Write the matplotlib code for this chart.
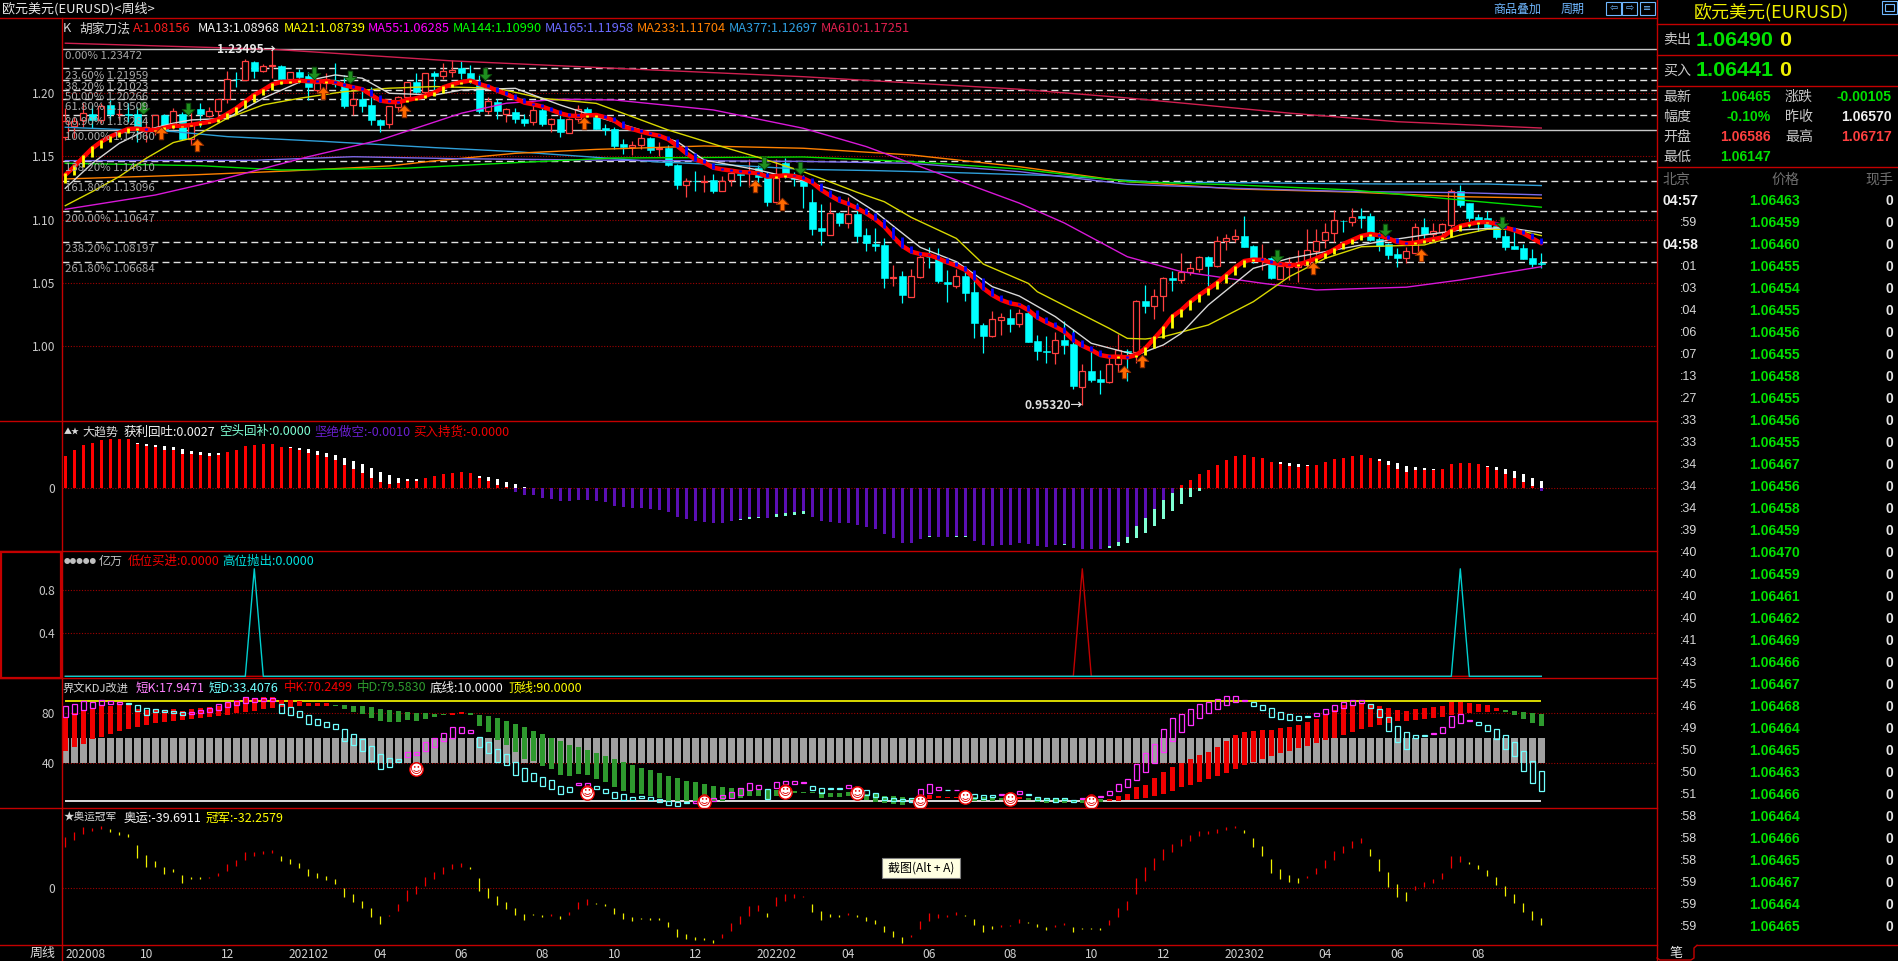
"""
EURUSD weekly terminal screen: candles with moving averages and fibonacci levels,
three indicator panels below and the quote / tick list on the right.
"""
import numpy as np
import matplotlib
matplotlib.use("Agg")
import matplotlib.pyplot as plt
from matplotlib.path import Path
from matplotlib.patches import Rectangle

plt.rcParams['font.family'] = ['Noto Sans CJK SC', 'DejaVu Sans']

# candles
highs = [1.1881,1.1815,1.1921,1.1908,1.1921,1.1947,1.1921,1.1921,1.1895,1.1802,
         1.1831,1.1837,1.1884,1.1855,1.1873,1.1926,1.1895,1.1958,1.2177,1.2166,
         1.2269,1.2256,1.2232,1.23495,1.2224,1.2166,1.2190,1.2172,1.2119,1.2158,
         1.2243,1.2145,1.2040,1.2040,1.2053,1.1794,1.1902,1.1979,1.2092,1.2158,
         1.2164,1.2179,1.2240,1.2263,1.2255,1.2224,1.2144,1.1973,1.1952,1.1881,
         1.1881,1.1833,1.1920,1.1889,1.1802,1.1828,1.1802,1.1907,1.1889,1.1841,
         1.1757,1.1730,1.1635,1.1625,1.1678,1.1651,1.1612,1.1591,1.1440,1.1327,
         1.1382,1.1353,1.1361,1.1345,1.1393,1.1393,1.1480,1.1432,1.1380,1.1477,
         1.1488,1.1380,1.1353,1.1240,1.1121,1.1137,1.1063,1.1182,1.1129,1.0931,
         1.0931,1.0852,1.0641,1.0594,1.0610,1.0734,1.0781,1.0773,1.0599,1.0610,
         1.0633,1.0575,1.0180,1.0277,1.0264,1.0293,1.0293,1.0325,1.0088,1.0080,
         1.0111,1.0198,1.0135,0.9856,0.9969,0.9811,0.9916,1.0093,0.9979,1.0364,
         1.0483,1.0451,1.0549,1.0591,1.0734,1.0655,1.0713,1.0713,1.0871,1.0887,
         1.0924,1.1029,1.0800,1.0808,1.0702,1.0641,1.0702,1.0760,1.0924,1.0924,
         1.0976,1.1074,1.0997,1.1095,1.1095,1.1055,1.0903,1.0813,1.0773,1.0781,
         1.0976,1.1013,1.0974,1.0971,1.1240,1.1277,1.1135,1.1045,1.1066,1.0971,
         1.0918,1.0932,1.0808,1.0771,1.0734]
lows = [1.1631,1.1644,1.1731,1.1723,1.1763,1.1789,1.1789,1.1776,1.1618,1.1618,
        1.1670,1.1705,1.1715,1.1631,1.1591,1.1736,1.1810,1.1789,1.1921,1.2047,
        1.2106,1.2124,1.2172,1.2119,1.2071,1.2079,1.2084,1.1947,1.2013,1.2000,
        1.2053,1.1887,1.1831,1.1855,1.1750,1.1697,1.1726,1.1855,1.1961,1.2000,
        1.1966,1.2026,1.2110,1.2126,1.2110,1.2079,1.1841,1.1836,1.1796,1.1773,
        1.1767,1.1744,1.1749,1.1741,1.1694,1.1657,1.1688,1.1775,1.1815,1.1715,
        1.1672,1.1556,1.1519,1.1509,1.1562,1.1530,1.1504,1.1427,1.1243,1.1179,
        1.1227,1.1219,1.1211,1.1229,1.1266,1.1266,1.1261,1.1293,1.1108,1.1129,
        1.1327,1.1266,1.1092,1.0879,1.0800,1.0881,1.0950,1.0934,1.0823,1.0752,
        1.0755,1.0459,1.0475,1.0343,1.0386,1.0541,1.0620,1.0502,1.0349,1.0462,
        1.0357,1.0066,0.9948,1.0074,1.0088,1.0111,1.0153,1.0030,0.9890,0.9863,
        0.9861,0.9937,0.9660,0.9532,0.9718,0.9623,0.9705,0.9792,0.9726,0.9863,
        1.0264,1.0217,1.0280,1.0438,1.0496,1.0562,1.0586,1.0475,1.0628,1.0760,
        1.0823,1.0781,1.0657,1.0602,1.0528,1.0528,1.0523,1.0507,1.0628,1.0721,
        1.0776,1.0826,1.0903,1.0950,1.0934,1.0834,1.0752,1.0689,1.0626,1.0660,
        1.0734,1.0850,1.0834,1.0866,1.0939,1.1103,1.0939,1.0913,1.0939,1.0845,
        1.0760,1.0765,1.0686,1.0626,1.06147]
body_tops = [1.1781,1.1781,1.1842,1.1837,1.1902,1.1908,1.1839,1.1837,1.1837,1.1731,
             1.1826,1.1826,1.1858,1.1837,1.1758,1.1873,1.1858,1.1958,1.2116,1.2113,
             1.2256,1.2248,1.2216,1.2224,1.2216,1.2166,1.2166,1.2140,1.2079,1.2111,
             1.2106,1.2066,1.1953,1.1953,1.1905,1.1789,1.1897,1.1971,1.2092,1.2092,
             1.2158,1.2158,1.2176,1.2185,1.2200,1.2160,1.2063,1.1936,1.1928,1.1873,
             1.1849,1.1794,1.1868,1.1868,1.1794,1.1794,1.1794,1.1873,1.1875,1.1815,
             1.1725,1.1715,1.1599,1.1593,1.1643,1.1646,1.1564,1.1564,1.1435,1.1306,
             1.1306,1.1309,1.1311,1.1309,1.1372,1.1359,1.1374,1.1406,1.1340,1.1327,
             1.1446,1.1353,1.1319,1.1140,1.0934,1.1050,1.1050,1.1045,1.1045,1.0879,
             1.0805,1.0800,1.0546,1.0554,1.0557,1.0707,1.0707,1.0694,1.0504,1.0552,
             1.0554,1.0428,1.0164,1.0211,1.0227,1.0222,1.0262,1.0262,1.0040,0.9958,
             1.0045,1.0048,1.0016,0.9800,0.9803,0.9740,0.9856,0.9966,0.9961,1.0354,
             1.0354,1.0393,1.0536,1.0536,1.0583,1.0615,1.0702,1.0702,1.0829,1.0852,
             1.0868,1.0868,1.0792,1.0694,1.0694,1.0631,1.0636,1.0641,1.0757,1.0834,
             1.0900,1.0995,1.0992,1.1019,1.1026,1.1029,1.0847,1.0808,1.0729,1.0752,
             1.0939,1.0942,1.0908,1.0963,1.1224,1.1224,1.1132,1.1021,1.1013,1.0950,
             1.0871,1.0792,1.0776,1.0694,1.06586]
body_bottoms = [1.1657,1.1741,1.1789,1.1789,1.1789,1.1837,1.1834,1.1831,1.1731,1.1715,
                1.1710,1.1710,1.1758,1.1636,1.1636,1.1837,1.1821,1.1858,1.1953,1.2111,
                1.2108,1.2179,1.2177,1.2214,1.2111,1.2111,1.2127,1.2047,1.2026,1.2079,
                1.2071,1.1900,1.1905,1.1902,1.1789,1.1750,1.1755,1.1895,1.1974,1.2013,
                1.2013,1.2140,1.2139,1.2171,1.2163,1.2110,1.1862,1.1857,1.1862,1.1833,
                1.1799,1.1762,1.1773,1.1757,1.1754,1.1696,1.1688,1.1794,1.1828,1.1717,
                1.1709,1.1583,1.1572,1.1572,1.1593,1.1554,1.1556,1.1432,1.1274,1.1274,
                1.1303,1.1295,1.1227,1.1229,1.1314,1.1353,1.1369,1.1340,1.1140,1.1140,
                1.1361,1.1322,1.1269,1.0926,1.0910,1.0881,1.0974,1.0976,1.0873,1.0813,
                1.0794,1.0541,1.0541,1.0407,1.0391,1.0544,1.0702,1.0517,1.0494,1.0478,
                1.0422,1.0185,1.0082,1.0082,1.0209,1.0177,1.0177,1.0032,0.9964,0.9953,
                0.9948,1.0008,0.9684,0.9679,0.9732,0.9718,0.9718,0.9856,0.9953,0.9953,
                1.0320,1.0320,1.0393,1.0525,1.0525,1.0583,1.0612,1.0636,1.0636,1.0829,
                1.0850,1.0786,1.0689,1.0678,1.0541,1.0531,1.0628,1.0628,1.0641,1.0755,
                1.0839,1.0897,1.0987,1.0984,1.1013,1.0842,1.0794,1.0721,1.0699,1.0699,
                1.0739,1.0887,1.0887,1.0903,1.0961,1.1116,1.1013,1.0997,1.0945,1.0863,
                1.0784,1.0768,1.0689,1.0649,1.06465]
rising_bars = [0,1,2,4,6,9,10,12,14,16,17,18,20,22,23,25,28,29,32,36,37,38,40,42,43,47,49,
               52,54,56,57,63,64,66,69,71,73,74,76,79,85,87,92,94,95,99,103,104,106,110,
               113,116,117,119,121,122,124,125,126,128,129,130,133,135,136,137,138,139,
               140,141,143,149,150,152,153,154]

# thick A line, one value per bar
line_a = [1.1354,1.1420,1.1494,1.1565,1.1618,1.1657,1.1689,1.1718,1.1721,1.1710,
          1.1710,1.1726,1.1742,1.1742,1.1750,1.1763,1.1773,1.1794,1.1837,1.1881,
          1.1934,1.1987,1.2026,1.2071,1.2090,1.2092,1.2100,1.2095,1.2092,1.2095,
          1.2084,1.2063,1.2047,1.2032,1.1987,1.1942,1.1931,1.1929,1.1947,1.1961,
          1.1979,1.2005,1.2047,1.2071,1.2089,1.2100,1.2073,1.2052,1.2020,1.1994,
          1.1960,1.1926,1.1912,1.1894,1.1868,1.1841,1.1823,1.1820,1.1825,1.1828,
          1.1810,1.1783,1.1736,1.1717,1.1696,1.1678,1.1664,1.1635,1.1583,1.1525,
          1.1477,1.1451,1.1411,1.1398,1.1388,1.1377,1.1374,1.1367,1.1340,1.1345,
          1.1351,1.1345,1.1327,1.1293,1.1235,1.1190,1.1150,1.1124,1.1090,1.1050,
          1.1003,1.0945,1.0865,1.0792,1.0747,1.0728,1.0720,1.0694,1.0662,1.0636,
          1.0602,1.0536,1.0457,1.0404,1.0364,1.0338,1.0325,1.0285,1.0227,1.0188,
          1.0154,1.0114,1.0048,1.0003,0.9969,0.9929,0.9916,0.9916,0.9911,0.9929,
          0.9982,1.0061,1.0140,1.0233,1.0285,1.0351,1.0404,1.0452,1.0502,1.0562,
          1.0623,1.0673,1.0684,1.0681,1.0660,1.0649,1.0641,1.0644,1.0668,1.0694,
          1.0728,1.0765,1.0808,1.0839,1.0871,1.0887,1.0876,1.0852,1.0823,1.0813,
          1.0818,1.0834,1.0845,1.0860,1.0913,1.0950,1.0966,1.0979,1.0982,1.0966,
          1.0939,1.0916,1.0892,1.0852,1.0813]

# moving averages, read at a few bars each
ma13_bars = [0,3,6,9,12,14,18,22,26,30,33,36,41,44,50,55,59,64,68,71,77,82,87,90,95,99,103,106,110,114,119,122,124,127,132,136,141,146,151,155,160,164]
ma13 = [1.1248,1.1446,1.1604,1.1710,1.1763,1.1789,1.1802,1.1961,1.2087,1.2145,1.2119,1.2000,1.1986,1.2026,1.2039,1.1907,1.1815,1.1709,1.1617,1.1472,1.1393,1.1308,1.1200,1.1063,1.0781,1.0668,1.0470,1.0396,1.0233,1.0022,0.9929,1.0009,1.0101,1.0325,1.0615,1.0694,1.0760,1.0826,1.0879,1.0918,1.0939,1.0897]
ma21_bars = [0,3,6,9,12,14,18,22,26,31,36,41,48,53,59,62,67,73,77,82,88,91,94,99,102,107,108,116,118,120,122,127,132,136,140,144,151,155,158,161,164]
ma21 = [1.1111,1.1222,1.1341,1.1486,1.1610,1.1644,1.1802,1.1908,1.1960,1.2013,1.2040,1.2053,1.2039,1.1960,1.1920,1.1841,1.1709,1.1577,1.1493,1.1380,1.1216,1.1142,1.1018,1.0852,1.0649,1.0496,1.0430,1.0140,1.0061,1.0056,1.0074,1.0167,1.0351,1.0549,1.0694,1.0786,1.0800,1.0879,1.0924,1.0924,1.0874]
ma55_bars = [0,10,16,27,35,44,49,55,61,72,82,89,96,106,111,118,124,133,139,149,155,164]
ma55 = [1.1082,1.1195,1.1293,1.1498,1.1631,1.1842,1.1921,1.1953,1.1947,1.1868,1.1723,1.1578,1.1393,1.1131,1.0974,1.0707,1.0589,1.0497,1.0444,1.0466,1.0523,1.0628]
ma144_bars = [0,15,24,38,50,61,82,94,106,118,130,143,155,164]
ma144 = [1.1446,1.1427,1.1393,1.1408,1.1451,1.1488,1.1496,1.1459,1.1401,1.1301,1.1275,1.1235,1.1156,1.1099]
ma165_bars = [0,21,32,43,61,82,94,106,118,130,143,155,164]
ma165 = [1.1467,1.1470,1.1498,1.1483,1.1470,1.1461,1.1446,1.1380,1.1280,1.1248,1.1222,1.1214,1.1196]
ma233_bars = [0,14,25,36,41,50,59,71,82,94,106,118,130,143,155,164]
ma233 = [1.1322,1.1354,1.1386,1.1425,1.1465,1.1525,1.1556,1.1583,1.1565,1.1512,1.1419,1.1301,1.1243,1.1218,1.1182,1.1170]
ma377_bars = [0,12,18,29,41,50,59,66,74,82,90,99,110,122,126,147,158,164]
ma377 = [1.1731,1.1697,1.1657,1.1618,1.1570,1.1538,1.1493,1.1456,1.1432,1.1398,1.1388,1.1372,1.1348,1.1293,1.1295,1.1282,1.1282,1.1270]
ma610_bars = [0,23,43,61,82,106,118,136,148,164]
ma610 = [1.2396,1.2348,1.2256,1.2198,1.2131,1.2032,1.1963,1.1843,1.1775,1.1725]

fib_labels = ["0.00%","23.60%","38.20%","50.00%","61.80%","80.90%","100.00%","138.20%","161.80%","200.00%","238.20%","261.80%"]
fib_prices = [1.23472,1.21959,1.21023,1.20266,1.19509,1.18284,1.17060,1.14610,1.13096,1.10647,1.08197,1.06684]

buy_arrow_bars = [11,15,29,38,58,77,80,118,120,139,151]
buy_arrow_prices = [1.1684,1.1591,1.2000,1.1863,1.1762,1.1269,1.1124,0.9795,0.9882,1.0615,1.0721]
sell_arrow_bars = [9,14,28,32,47,78,82,135,147,160]
sell_arrow_prices = [1.1881,1.1873,1.2158,1.2127,1.2152,1.1446,1.1406,1.0713,1.0918,1.0976]

# trend panel, indicator units
trend_red = [97,115,130,137,145,147,148,148,132,128,123,115,114,103,103,100,97,100,110,115,127,130,133,133,125,
             122,115,107,100,94,85,70,58,47,31,20,13,16,23,22,30,38,43,46,49,46,31,22,9,3] + [0]*74 + [
             10,25,43,55,70,85,97,100,94,91,79,73,68,64,68,70,79,88,91,97,
             100,91,82,70,58,49,55,55,55,58,73,76,76,73,64,55,43,31,19,7,0]
trend_white = [0]*8 + [135,133,129,127,123,117,112,109,107,106] + [0]*7 + [
               124,121,118,112,105,100,92,82,73,61,49,40,30,27,27] + [0]*6 + [37,34,27,19,13,4] + [0]*83 + [
               79,76,73,70] + [0]*7 + [88,82,76,67,64,61,58] + [0]*5 + [67,64,58,52,43,31,22]
trend_purple = [0]*50 + [-11,-21,-20,-28,-32,-38,-38,-35,-35,-37,
                -41,-52,-56,-59,-59,-63,-66,-71,-86,-92,-98,-101,-104,-103,-97,-91,-87,-85,-88,-78,
                -75,-72,-68,-85,-97,-100,-103,-103,-109,-115,-121,-136,-148,-163,-164,-151,-143,-145,-145,-143,
                -143,-157,-169,-172,-169,-169,-164,-166,-172,-175,-169,-167,-178,-181,-181,-181,-173,-161,-146,-112,
                -88,-61,-34,-13] + [0]*40 + [-8]
trend_aqua = [0]*75 + [-95,-92,-90,0,-86,-83,-81,-77] + [0]*13 + [-145,0,0,-145,-145] + [0]*10 + [-170] + [0]*4 + [
              -179,-172,-163,-148,-133,-112,-91,-67,-46,-25,-7] + [0]*38

# signal panel
low_buy_bars = [0,112,113,114,164]
low_buy = [0,0,1,0,0]
high_sell_bars = [0,20,21,22,154,155,156,164]
high_sell = [0,0,1,0,0,1,0,0]

# KDJ panel
mid_k = [76.7,79.9,82.6,83.4,85.8,85.8,86.6,87.1,83.4,82.6,83.1,82.6,83.1,81.8,83.1,83.9,84.7,85.8,87.9,90.6,
         92.7,92.2,92.7,92.7,90.6,90.6,89.5,87.9,87.9,87.9,86.1,83.1,81.0,79.4,76.2,74.1,73.3,73.3,74.6,74.1,
         75.4,77.0,78.6,79.9,81.0,78.6,69.8,65.0,58.6,54.6,49.0,43.7,41.5,38.1,35.1,30.6,29.8,31.4,30.6,27.7,
         25.3,21.3,18.1,16.5,15.4,13.8,11.9,10.1,9.5,9.5,9.8,9.8,9.8,9.8,11.4,11.9,13.8,13.8,11.4,14.1,
         15.4,16.5,15.9,15.9,11.9,13.0,13.0,13.8,13.8,10.6,9.3,7.9,7.4,6.6,10.6,11.1,14.3,13.8,13.0,13.0,
         10.1,10.1,10.1,10.1,10.6,10.6,13.0,10.6,9.3,8.2,8.2,8.2,8.2,8.5,9.0,9.0,11.1,13.8,15.4,21.3,
         22.6,27.9,33.3,37.3,40.2,43.4,46.6,49.3,53.0,57.8,62.6,65.0,65.8,66.6,66.6,68.2,69.0,70.6,73.0,75.4,
         78.6,82.6,86.6,86.6,87.9,87.4,85.8,84.2,82.6,81.8,83.4,84.2,85.0,85.8,89.0,89.0,88.2,87.4,86.6,84.2,
         81.0,78.9,75.4,72.2,69.8]
mid_d = [49.8,53.0,55.4,59.1,61.3,63.4,65.8,67.4,69.3,70.6,71.9,73.3,73.8,74.6,75.4,76.5,77.0,78.1,78.6,79.9,
         81.0,82.1,83.4,84.5,84.7,85.3,86.1,86.1,86.1,86.1,86.6,86.6,85.8,85.8,85.3,83.4,82.6,81.5,81.0,80.5,
         80.5,79.4,79.4,78.6,79.7,80.2,78.6,77.8,75.9,73.8,71.4,68.7,65.8,63.4,59.9,57.8,54.6,53.0,50.6,48.2,
         45.8,43.4,41.0,38.6,36.2,34.6,32.2,29.8,28.2,25.8,25.0,23.4,21.8,21.0,20.2,19.9,18.6,18.6,19.4,18.6,
         17.3,17.8,17.0,17.0,17.3,16.2,16.2,17.0,18.6,15.4,15.4,13.8,13.8,13.3,12.2,13.3,11.7,12.2,12.2,11.9,
         13.0,13.0,13.0,12.2,12.2,12.2,11.4,12.2,12.2,11.9,11.9,11.9,10.6,11.7,11.7,11.7,9.8,9.8,10.6,11.4,
         12.2,13.8,15.4,17.5,20.7,22.6,25.0,27.4,29.8,32.2,35.4,38.3,41.0,43.4,45.8,48.2,49.8,52.2,53.8,56.2,
         58.9,60.2,62.6,65.0,67.4,69.0,70.6,72.2,73.8,73.8,74.6,75.4,76.2,77.0,78.6,79.4,80.2,81.0,81.0,81.8,
         82.6,81.8,81.0,80.2,79.4]
short_k = [85.8,87.4,89.5,89.0,90.3,89.5,89.0,87.4,81.5,78.9,81.3,80.7,80.5,78.3,80.7,82.6,83.9,87.1,88.7,90.1,
           92.7,91.9,91.9,91.9,80.5,78.9,76.7,71.1,70.3,69.3,67.1,58.1,54.9,50.1,41.8,35.1,36.7,41.3,49.3,49.3,
           56.7,60.5,64.5,68.7,69.3,66.9,53.3,47.9,41.0,38.3,30.9,25.5,26.1,21.5,19.7,15.1,17.3,23.9,23.9,19.7,
           16.2,12.5,10.9,10.9,12.5,10.3,9.0,6.9,6.1,8.5,10.1,11.9,11.9,14.3,17.3,19.9,23.9,22.6,11.7,25.3,
           26.1,26.1,25.0,18.3,15.9,19.7,19.7,22.3,18.6,14.3,12.7,10.6,10.1,9.8,9.3,19.1,23.7,20.7,18.3,18.6,
           15.4,11.9,11.1,13.0,15.4,15.9,17.5,14.3,10.6,10.6,9.3,10.6,9.3,12.2,12.7,13.8,17.5,23.1,27.1,39.7,
           47.9,55.1,67.1,75.9,79.4,83.1,87.1,88.7,91.1,93.5,93.5,90.3,85.5,82.9,77.3,75.7,74.9,74.9,76.7,79.9,
           83.1,86.3,88.7,90.3,90.3,83.9,77.3,66.1,56.7,51.7,59.9,62.1,63.9,68.7,78.1,79.1,74.3,70.9,66.1,59.7,
           51.7,46.1,34.1,24.5,18.1]
short_d = [76.7,79.4,82.6,84.2,86.6,87.7,87.7,88.2,86.3,84.2,83.4,82.6,82.1,81.3,79.4,79.9,81.3,82.6,85.3,86.6,
           87.9,89.3,90.1,90.1,87.1,84.7,81.5,78.3,75.7,73.3,71.7,67.1,63.1,59.4,53.5,47.1,43.9,43.1,45.3,46.3,
           50.1,53.3,57.5,60.5,63.9,64.5,60.7,56.7,51.1,47.1,41.3,35.9,32.5,29.3,26.3,22.1,20.7,22.3,21.8,21.5,
           19.4,17.3,15.1,13.3,13.5,12.7,11.1,10.1,8.7,9.3,8.5,9.3,10.1,11.9,11.9,14.6,18.6,19.7,19.1,20.5,
           23.4,23.7,24.5,22.1,19.9,19.9,19.9,20.2,21.3,18.3,15.9,13.3,11.9,11.1,11.9,13.8,16.5,18.3,18.6,18.3,
           16.5,15.7,14.3,14.3,14.3,14.6,15.7,15.1,13.3,11.9,11.9,12.2,10.6,11.1,11.7,12.7,14.3,17.5,20.7,26.9,
           33.3,39.9,49.3,58.1,65.3,70.9,76.5,80.5,83.7,86.9,89.3,89.5,88.7,86.3,83.9,80.7,79.1,77.5,77.5,78.1,
           79.7,82.1,84.5,86.3,87.9,87.4,83.1,77.3,70.1,64.7,62.9,62.3,63.1,64.5,69.3,72.5,73.5,72.7,70.3,67.1,
           62.3,56.7,49.5,41.5,33.5]
smile_bars = [39,58,71,80,88,95,100,105,114]
smile_values = [35.1,16.5,9.3,17.3,15.9,9.3,12.7,11.1,9.3]

# olympic panel
aoyun = [55.3,60.3,66.0,64.9,66.7,60.3,57.1,55.3,32.8,23.2,23.2,15.7,17.8,6.0,10.0,10.0,12.1,16.0,25.7,30.0,
         38.9,38.9,40.0,41.0,29.2,26.0,21.7,13.2,11.0,8.9,4.6,-9.3,-14.7,-21.1,-30.7,-38.2,-28.6,-16.8,-1.8,2.5,
         12.1,17.8,22.8,26.0,27.1,20.7,-2.9,-10.4,-17.9,-22.2,-28.6,-34.0,-28.6,-30.7,-27.5,-32.9,-25.4,-14.7,-11.5,-16.8,
         -19.0,-27.5,-32.9,-35.0,-32.9,-34.0,-34.0,-41.4,-52.2,-54.3,-55.4,-55.4,-58.6,-49.0,-37.2,-29.7,-19.0,-17.9,-30.7,-9.3,
         -6.1,-6.1,-8.6,-25.4,-34.0,-30.7,-30.7,-26.5,-30.7,-35.0,-38.2,-46.8,-52.2,-58.6,-50.0,-35.0,-26.5,-27.5,-28.6,-25.4,
         -29.7,-39.3,-46.8,-43.6,-39.3,-39.3,-32.9,-37.2,-41.4,-44.7,-39.3,-37.2,-46.8,-43.6,-43.6,-44.7,-34.0,-21.1,-13.6,11.0,
         22.8,32.5,42.1,47.4,52.8,57.1,61.4,61.4,63.5,65.6,66.7,59.2,44.2,34.6,16.4,10.0,6.7,5.7,13.2,21.7,
         30.3,40.0,45.3,50.7,53.9,34.6,18.5,1.4,-9.3,-13.6,2.5,6.7,10.0,16.4,34.6,34.6,26.0,20.7,13.2,3.5,
         -8.2,-15.7,-25.4,-34.0,-39.7]
guanjun = [44.6,51.7,58.2,61.0,63.5,63.5,60.3,58.5,46.4,35.7,29.2,22.8,20.7,14.2,12.1,12.1,11.0,13.2,18.5,23.9,
           30.3,34.6,36.7,37.8,34.6,31.4,27.1,20.7,16.4,13.2,10.0,0.3,-6.1,-13.6,-21.1,-29.7,-29.7,-24.3,-13.6,-6.1,
           2.5,10.0,15.3,20.7,22.8,22.8,11.0,0.3,-8.2,-14.7,-21.1,-27.5,-27.5,-28.6,-29.7,-29.7,-28.6,-22.2,-17.9,-15.7,
           -16.8,-21.1,-26.5,-30.7,-31.8,-31.8,-31.8,-36.1,-43.6,-49.0,-52.2,-53.2,-55.4,-53.2,-45.7,-38.2,-29.7,-24.3,-26.5,-19.0,
           -13.6,-10.4,-9.3,-16.8,-24.3,-27.5,-28.6,-28.6,-28.6,-30.7,-34.0,-40.4,-45.7,-52.2,-52.2,-43.6,-35.0,-31.8,-30.7,-28.6,
           -28.6,-32.9,-39.3,-40.4,-41.4,-40.4,-37.2,-36.1,-38.2,-41.4,-41.4,-39.3,-41.4,-42.5,-42.5,-42.5,-39.3,-30.7,-23.2,-6.1,
           7.8,19.6,30.3,38.9,45.3,50.7,56.0,58.2,59.2,62.4,64.6,62.4,53.9,45.3,31.4,20.7,14.2,11.0,11.0,15.3,
           21.7,30.3,37.8,43.2,48.5,42.1,31.4,17.5,4.6,-4.0,-1.8,1.4,5.7,10.0,21.7,28.2,28.2,25.0,19.6,12.1,
           2.5,-6.1,-15.7,-24.3,-31.8]

tick_bars = [0,9,18,27,35,44,53,61,70,79,87,96,105,114,122,131,140,148,157]
tick_labels = ["202008","10","12","202102","04","06","08","10","12","202202","04","06","08","10","12","202302","04","06","08"]

# quote side
stat_rows = [(97,"最新","1.06465","#00e000","涨跌","-0.00105","#00e000"),
             (117,"幅度","-0.10%","#00e000","昨收","1.06570","#f0f0f0"),
             (137,"开盘","1.06586","#ff4040","最高","1.06717","#ff4040"),
             (157,"最低","1.06147","#00e000","","","#00e000")]
tick_times = ["04:57",":59","04:58",":01",":03",":04",":06",":07",":13",":27",":33",":33",":34",":34",":34",":39",":40",
              ":40",":40",":40",":41",":43",":45",":46",":49",":50",":50",":51",":58",":58",":58",":59",":59",":59"]
tick_prices = ["1.06463","1.06459","1.06460","1.06455","1.06454","1.06455","1.06456","1.06455","1.06458","1.06455",
               "1.06456","1.06455","1.06467","1.06456","1.06458","1.06459","1.06470","1.06459","1.06461","1.06462",
               "1.06469","1.06466","1.06467","1.06468","1.06464","1.06465","1.06463","1.06466","1.06464","1.06466",
               "1.06465","1.06467","1.06464","1.06465"]

W, H = 1898, 961
LINE_RED = "#c40000"
GRID_RED = "#a00000"
AXIS_GREY = "#c8c8c8"
LEFT, RIGHT = 62, 1657
BAR_PX, BAR0_PX = 9.0, 65.3


def panel(top, bottom, ymin, ymax, yticks=(), ylabels=()):
    '''
    Add one black chart panel between two pixel rows.

    Args:
        top, bottom: pixel rows of the panel
        ymin, ymax: value range
        yticks, ylabels: axis ticks and their text

    Returns:
        the axes
    '''
    ax = fig.add_axes([LEFT/W, 1-bottom/H, (RIGHT-LEFT)/W, (bottom-top)/H], facecolor="none")
    ax.set_xlim((LEFT-BAR0_PX)/BAR_PX, (RIGHT-BAR0_PX)/BAR_PX)
    ax.set_ylim(ymin, ymax)
    for spine in ax.spines.values():
        spine.set_visible(False)
    ax.set_xticks([])
    ax.set_yticks(list(yticks))
    ax.set_yticklabels(list(ylabels), fontsize=8.64, color=AXIS_GREY)
    ax.tick_params(axis='y', length=0, pad=5)
    for tick in yticks:
        ax.axhline(tick, color=GRID_RED, lw=0.8, ls=(0, (1, 1.5)), zorder=1)
    return ax


def label(x, y, text, color="#d8d8d8", px=12, ha="left", **kwargs):
    '''Put text on the overlay, x and y in pixels, size in pixels.'''
    overlay.text(x, y, text, color=color, fontsize=px*0.72, ha=ha, va="center", **kwargs)


fig = plt.figure(figsize=(W/100, H/100), dpi=100, facecolor="black")
bars = np.arange(len(highs))

# main panel
ax_main = panel(18.3, 421.3, 0.9405, 1.2593, [1.00, 1.05, 1.10, 1.15, 1.20], ["1.00", "1.05", "1.10", "1.15", "1.20"])
for name, price in zip(fib_labels, fib_prices):
    if name in ("0.00%", "100.00%"):
        ax_main.axhline(price, color="#c8c8c8", lw=1.0, zorder=1.5)
    else:
        ax_main.axhline(price, color="#e0e0e0", lw=1.0, ls=(0, (5, 3)), zorder=1.5)

highs = np.array(highs)
lows = np.array(lows)
body_tops = np.array(body_tops)
body_bottoms = np.array(body_bottoms)
rising = np.zeros(len(bars), dtype=bool)
rising[rising_bars] = True
ax_main.vlines(bars[rising], body_tops[rising], highs[rising], color="#ff4040", lw=0.9, zorder=2)
ax_main.vlines(bars[rising], lows[rising], body_bottoms[rising], color="#ff4040", lw=0.9, zorder=2)
ax_main.vlines(bars[~rising], lows[~rising], highs[~rising], color="#00ffff", lw=0.9, zorder=2)
ax_main.bar(bars[rising], (body_tops-body_bottoms)[rising], bottom=body_bottoms[rising], width=0.68,
            facecolor="black", edgecolor="#ff4040", lw=0.9, zorder=2.2)
ax_main.bar(bars[~rising], (body_tops-body_bottoms)[~rising], bottom=body_bottoms[~rising], width=0.76,
            facecolor="#00ffff", edgecolor="#00ffff", lw=0.4, zorder=2.2)

for xs, ys, color in [(ma610_bars, ma610, "#d02050"), (ma377_bars, ma377, "#2f9fd8"), (ma233_bars, ma233, "#ff8000"),
                      (ma165_bars, ma165, "#7a6ae8"), (ma144_bars, ma144, "#00e000"), (ma55_bars, ma55, "#d818d8"),
                      (ma21_bars, ma21, "#d8d800"), (ma13_bars, ma13, "#d8d8d8")]:
    ax_main.plot(xs, ys, color=color, lw=1.0, zorder=3)

line_a = np.array(line_a)
ax_main.plot(bars, line_a, color="#ff0000", lw=3.2, zorder=4, solid_capstyle="round")
change = np.diff(line_a, prepend=line_a[0]-0.0066)
reach = np.maximum(np.abs(change), 0.0012)
up = change >= 0
ax_main.vlines(bars[up], line_a[up]-reach[up], line_a[up]+0.2*reach[up], color="#ffff00", lw=2.0, zorder=5)
ax_main.vlines(bars[~up], line_a[~up]-0.2*reach[~up], line_a[~up]+reach[~up], color="#0000ff", lw=2.0, zorder=5)

arrow_down = Path([(-.35, 1), (.35, 1), (.35, 0), (1, 0), (0, -1), (-1, 0), (-.35, 0), (-.35, 1)], closed=True)
arrow_up = Path([(-.35, -1), (.35, -1), (.35, 0), (1, 0), (0, 1), (-1, 0), (-.35, 0), (-.35, -1)], closed=True)
ax_main.plot(np.array(sell_arrow_bars)-0.4, sell_arrow_prices, ls="none", marker=arrow_down, ms=9, mfc="#1f8f1f", mec="#0b4d0b", mew=0.7, zorder=6)
ax_main.plot(np.array(buy_arrow_bars)-0.4, buy_arrow_prices, ls="none", marker=arrow_up, ms=9, mfc="#ff6a00", mec="#8a2a00", mew=0.7, zorder=6)

# trend panel
ax_trend = panel(421.3, 551.3, -189, 201, [0], ["0"])
ax_trend.bar(bars, trend_white, width=0.33, color="#ffffff", zorder=2)
ax_trend.bar(bars, trend_red, width=0.33, color="#ff0000", zorder=2.1)
ax_trend.bar(bars, trend_aqua, width=0.33, color="#7fffd4", zorder=2)
ax_trend.bar(bars, trend_purple, width=0.33, color="#5a0fb4", zorder=2.1)

# signal panel
ax_signal = panel(551.3, 678.3, -0.0186, 1.163, [0.4, 0.8], ["0.4", "0.8"])
ax_signal.plot(low_buy_bars, low_buy, color="#c00000", lw=1.0, zorder=2)
ax_signal.plot(high_sell_bars, high_sell, color="#00d0d0", lw=1.0, zorder=3)

# KDJ panel
ax_kd = panel(678.3, 808, 4.2, 108, [40, 80], ["40", "80"])
ax_kd.bar(bars, [20]*len(bars), bottom=[40]*len(bars), width=0.72, color="#a0a0a0", zorder=1.5)
ax_kd.hlines(90, bars[0], bars[-1], color="#ffff00", lw=1.2, zorder=2)
ax_kd.hlines(10, bars[0], bars[-1], color="#ffffff", lw=1.2, zorder=2)
mid_k = np.array(mid_k)
mid_d = np.array(mid_d)
short_k = np.array(short_k)
short_d = np.array(short_d)
mid_colors = np.where(mid_k >= mid_d, "#f00000", "#2e9a2e")
ax_kd.bar(bars, np.abs(mid_k-mid_d), bottom=np.minimum(mid_k, mid_d), width=0.52, color=mid_colors, zorder=2.5)
short_colors = np.where(short_k >= short_d, "#ff30ff", "#70ffff")
ax_kd.bar(bars, np.abs(short_k-short_d), bottom=np.minimum(short_k, short_d), width=0.52,
          facecolor="none", edgecolor=short_colors, lw=0.9, zorder=3)
ax_kd.plot(smile_bars, smile_values, ls="none", marker="o", ms=9.6, mfc="white", mec="#f00000", mew=1.0, zorder=4)
for bar, value in zip(smile_bars, smile_values):
    ax_kd.text(bar, value, "\u263a", color="#e00000", fontsize=9, ha="center", va="center",
               family="DejaVu Sans", zorder=5, clip_on=True)

# olympic panel
ax_oly = panel(808, 945.3, -61, 86, [0], ["0"])
aoyun = np.array(aoyun)
guanjun = np.array(guanjun)
oly_colors = np.where(aoyun >= guanjun, "#f00000", "#f0f000")
ax_oly.vlines(bars, guanjun, aoyun, color=oly_colors, lw=0.9, zorder=2)
ax_oly.set_xticks(tick_bars)
ax_oly.set_xticklabels(tick_labels, fontsize=8.64, color="#d0d0d0")
ax_oly.tick_params(axis='x', length=0, pad=2)
ax_oly.get_xticklabels()[0].set_ha("left")

# overlay for frame lines and all loose text
overlay = fig.add_axes([0, 0, 1, 1], facecolor="none", zorder=10)
overlay.set_xlim(0, W)
overlay.set_ylim(H, 0)
overlay.axis("off")
for y in (18.3, 421.3, 551.3, 678.3, 808, 945.3):
    overlay.plot([0, RIGHT], [y, y], color=LINE_RED, lw=1.0)
overlay.plot([LEFT-0.3, LEFT-0.3], [18.3, H], color=LINE_RED, lw=1.0)
overlay.plot([RIGHT, RIGHT], [0, H], color=LINE_RED, lw=1.0)
for y in (24.3, 55.3, 86.3, 167.3):
    overlay.plot([RIGHT, W], [y, y], color=LINE_RED, lw=1.0)
overlay.plot([1697, W], [945.3, 945.3], color=LINE_RED, lw=1.0)
overlay.plot([1697, 1694, 1694, 1691, 1660, RIGHT], [945.3, 948, 958, 960, 960, 958], color=LINE_RED, lw=1.0)
overlay.add_patch(Rectangle((0.8, 552), 60, 126, fill=False, edgecolor=LINE_RED, lw=1.6))

# header strips
label(2, 9, "欧元美元(EURUSD)<周线>", "#e8e8e8", 13)
label(1493, 9, "商品叠加", "#6fb7ff", 12)
label(1561, 9, "周期", "#6fb7ff", 12)
for x0, glyph in [(1606, "⇦"), (1622, "⇨"), (1640, "≡")]:
    overlay.add_patch(Rectangle((x0, 2), 15, 13, fill=False, edgecolor="#6fb7ff", lw=0.8))
    overlay.text(x0+7.5, 8.5, glyph, color="#6fb7ff", fontsize=7, ha="center", va="center", family="DejaVu Sans")
overlay.add_patch(Rectangle((1882, 1), 15, 13, fill=False, edgecolor="#6fb7ff", lw=0.8))
overlay.add_patch(Rectangle((1885, 4), 9, 7, fill=False, edgecolor="#6fb7ff", lw=0.8))

main_legend = [(63, "K", "#d8d8d8"), (79, "胡家刀法", "#d8d8d8"), (133, "A:1.08156", "#ff2020"), (198, "MA13:1.08968", "#f4f4f4"),
               (284, "MA21:1.08739", "#ffff00"), (368, "MA55:1.06285", "#ff00ff"), (453, "MA144:1.10990", "#00ff00"),
               (545, "MA165:1.11958", "#6a6aff"), (637, "MA233:1.11704", "#ff8000"), (729, "MA377:1.12697", "#2f9fe0"),
               (821, "MA610:1.17251", "#e0204f")]
for x, text, color in main_legend:
    label(x, 29, text, color, 12.8)

for name, price in zip(fib_labels, fib_prices):
    py = 93.3 + (1.2-price)*1264 + 7
    label(65, py, f"{name} {price:.5f}", "#a8a8a8", 11.4)
label(217, 49.5, "1.23495→", "#e8e8e8", 12, weight="bold")
label(1025, 405.5, "0.95320→", "#e0e0e0", 12, weight="bold")

for x, text, color, px in [(64, "▲★", "#d8d8d8", 8), (82, "大趋势", "#d8d8d8", 12), (124, "获利回吐:0.0027", "#f4f4f4", 12.5),
                           (219, "空头回补:0.0000", "#7fffd4", 12.5), (314, "坚绝做空:-0.0010", "#6a1fd0", 12.5),
                           (413, "买入持货:-0.0000", "#f00000", 12.5)]:
    label(x, 432, text, color, px)
for x, text, color, px in [(64, "●●●●●", "#c0c0c0", 6.6), (99, "亿万", "#c0c0c0", 12), (128, "低位买进:0.0000", "#f00000", 12.5),
                           (222, "高位抛出:0.0000", "#00e0e0", 12.5)]:
    label(x, 561.7, text, color, px)
for x, text, color, px in [(63, "界文KDJ改进", "#d8d8d8", 11.2), (136, "短K:17.9471", "#ff80ff", 12.5), (209, "短D:33.4076", "#70ffff", 12.5),
                           (284, "中K:70.2499", "#f00000", 12.5), (357, "中D:79.5830", "#2e9a2e", 12.5), (430, "底线:10.0000", "#f4f4f4", 12.5),
                           (508, "顶线:90.0000", "#ffff00", 12.5)]:
    label(x, 688, text, color, px)
for x, text, color, px in [(64, "★奥运冠军", "#d8d8d8", 10.6), (124, "奥运:-39.6911", "#f4f4f4", 12.5), (206, "冠军:-32.2579", "#ffff00", 12.5)]:
    label(x, 818, text, color, px)
label(56, 953, "周线", "#d8d8d8", 13, ha="right")

# screenshot tooltip
overlay.add_patch(Rectangle((882, 858), 78, 20, facecolor="#ffffe1", edgecolor="#808080", lw=0.8))
label(921, 868, "截图(Alt + A)", "#000000", 12, ha="center")

# quote side
label(1771, 12, "欧元美元(EURUSD)", "#f0f000", 18, ha="center")
label(1663, 40, "卖出", "#c8c8c8", 14)
label(1663, 71, "买入", "#c8c8c8", 14)
for y, price in [(40, "1.06490"), (71, "1.06441")]:
    label(1696, y, price, "#00e000", 21.5, weight="bold", family="Liberation Sans")
    label(1779, y, "0", "#f0f000", 21.5, weight="bold", family="Liberation Sans")
for y, name1, value1, color1, name2, value2, color2 in stat_rows:
    label(1663, y, name1, "#c8c8c8", 14)
    label(1771, y, value1, color1, 14, ha="right", weight="bold", family="Liberation Sans")
    if name2:
        label(1785, y, name2, "#c8c8c8", 14)
        label(1892, y, value2, color2, 14, ha="right", weight="bold", family="Liberation Sans")
label(1663, 180, "北京", "#707070", 14)
label(1799, 180, "价格", "#707070", 14, ha="right")
label(1893, 180, "现手", "#707070", 14, ha="right")
for row, (stamp, price) in enumerate(zip(tick_times, tick_prices)):
    y = 201 + 22*row
    if len(stamp) > 3:
        label(1663, y, stamp, "#f0f0f0", 14, weight="bold", family="Liberation Sans")
    else:
        label(1680, y, stamp, "#d8d8d8", 12.5, family="Liberation Sans")
    label(1749, y, price, "#00e000", 14, weight="bold", family="Liberation Sans")
    label(1893, y, "0", "#e8e8e8", 14, ha="right", weight="bold", family="Liberation Sans")
label(1676, 953, "笔", "#e8e8e8", 13, ha="center")

fig.savefig("out.png", dpi=100, facecolor="black")
